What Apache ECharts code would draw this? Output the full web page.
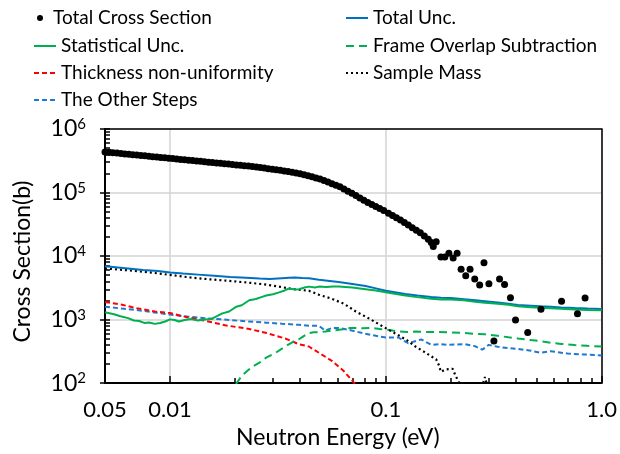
<!DOCTYPE html>
<html><head><meta charset="utf-8">
<script src="https://cdn.jsdelivr.net/npm/echarts@6/dist/echarts.min.js"></script>
<style>html,body{margin:0;padding:0;background:#fff}#c{width:620px;height:454px}</style>
</head><body><div id="c"></div>
<script>
// ---- axis ticks / labels ----
const xTickValues = [0.005, 0.01, 0.1, 1];
const xTickLabels = ['0.05', '0.01', '0.1', '1.0'];
const xMinorTicks = [0.02,0.03,0.04,0.05,0.06,0.07,0.08,0.09,0.2,0.3,0.4,0.5,0.6,0.7,0.8,0.9];
const yTickValues = [100, 1000, 10000, 100000, 1000000];
const yTickExponents = ['2', '3', '4', '5', '6'];
const yMinorTicks = [200,300,400,500,600,700,800,900,2000,3000,4000,5000,6000,7000,8000,9000,
  20000,30000,40000,50000,60000,70000,80000,90000,200000,300000,400000,500000,600000,700000,800000,900000];

// ---- Total Cross Section (points) ----
const tcsE = [0.005,0.00522,0.00544,0.00568,0.00593,0.00618,0.00645,0.00673,0.00702,0.00733,0.00765,0.00798,0.00832,0.00869,0.00906,0.00946,0.00987,0.01029,0.01074,0.01121,0.01169,0.0122,0.01273,0.01328,0.01386,0.01446,0.01509,0.01574,0.01643,0.01714,0.01788,0.01866,0.01947,0.02031,0.0212,0.02212,0.02308,0.02408,0.02512,0.02621,0.02735,0.02854,0.02978,0.03107,0.03242,0.03382,0.03529,0.03682,0.03842,0.04009,0.04183,0.04364,0.04554,0.04751,0.04958,0.05173,0.05397,0.05631,0.05876,0.06131,0.06397,0.06675,0.06964,0.07267,0.07582,0.07911,0.08254,0.08613,0.08986,0.09376,0.09783,
  0.1029,0.1074,0.112,0.1169,0.1219,0.1272,0.1327,0.1385,0.1445,0.1508,0.1573,
  0.1624,0.1659,0.1712,0.180,0.1877,0.196,0.2051,0.214,0.2233,0.2346,0.2456,0.2582,0.2722,0.285,0.3004,0.3169,0.3365,0.355,0.378,0.399,0.4544,0.5234,0.652,0.7727,0.838];
const tcsV = [435500,429300,423300,417300,411400,405600,399800,394200,388600,383100,377700,372300,367100,361900,356800,351700,346700,341800,337000,332200,327500,322900,318300,313800,309400,305000,300700,296400,292200,288100,284000,280000,276000,272100,268300,264500,260700,255900,251300,246700,242200,237800,233400,229200,224300,218900,213700,208600,203600,198000,190600,183500,176600,170000,162900,154100,145800,137900,130500,122800,113500,104900,97020,89490,82350,75780,69740,64680,60110,55860,51910,
  47180,43560,40150,36880,33710,30820,27970,25390,23200,20770,18340,
  16300,14100,16800,9660,9700,11090,9330,11090,6225,4885,6225,4355,3501,7850,3664,459,4355,3575,2203,983,627,1454,1945,1240,2180];

// ---- Total Unc. ----
const totE = [0.005,0.0059,0.0075,0.0088,0.01,0.0115,0.0135,0.016,0.019,0.0225,0.026,0.029,0.033,0.0356,0.038,0.041,0.044,0.049,0.055,0.0605,0.07,0.0806,0.09,0.1,0.11,0.1232,0.14,0.1624,0.18,0.2,0.23,0.26,0.288,0.33,0.37,0.409,0.47,0.52,0.58,0.65,0.75,0.86,1.0];
const totV = [6900,6550,6050,5800,5500,5300,5100,4900,4700,4550,4420,4350,4480,4560,4600,4500,4460,4250,4060,3890,3630,3380,3100,2850,2700,2530,2390,2260,2200,2180,2090,2010,1945,1850,1770,1690,1650,1620,1595,1550,1515,1490,1470];

// ---- Statistical Unc. ----
const statE = [0.005,0.0055,0.0059,0.0064,0.0068,0.0072,0.0076,0.008,0.0085,0.009,0.0095,0.01,0.0105,0.011,0.0117,0.0125,0.0135,0.0145,0.0155,0.0165,0.0175,0.0188,0.0203,0.0215,0.0233,0.025,0.0265,0.0279,0.03,0.032,0.034,0.0356,0.038,0.0396,0.042,0.044,0.047,0.049,0.053,0.057,0.0605,0.065,0.07,0.0806,0.09,0.1,0.11,0.1232,0.14,0.1624,0.18,0.2,0.23,0.26,0.288,0.33,0.37,0.409,0.47,0.52,0.58,0.65,0.75,0.86,1.0];
const statV = [1300,1210,1130,1053,966,949,886,901,856,886,933,1007,983,933,983,1017,966,1000,1017,1129,1253,1342,1596,1681,2013,2105,2256,2393,2502,2683,2875,3082,2976,3007,3190,3302,3190,3302,3245,3325,3302,3245,3190,3007,2875,2683,2547,2393,2256,2127,2070,2070,2013,1911,1846,1771,1710,1623,1568,1541,1514,1479,1438,1414,1403];

// ---- Frame Overlap Subtraction ----
const frameE = [0.0202,0.0216,0.0239,0.0262,0.0279,0.0309,0.0342,0.037,0.0396,0.0415,0.044,0.0463,0.049,0.0525,0.0562,0.062,0.0686,0.078,0.0865,0.0955,0.1037,0.1144,0.125,0.137,0.16,0.1945,0.23,0.26,0.288,0.33,0.37,0.409,0.47,0.52,0.58,0.65,0.75,0.86,1.0];
const frameV = [96,133,178,214,252,300,377,443,490,545,611,633,633,649,671,695,738,732,738,707,688,649,637,649,637,633,615,595,585,555,527,504,475,459,433,414,397,386,377];

// ---- Thickness non-uniformity ----
const thickE = [0.005,0.006,0.007,0.0085,0.01,0.012,0.0147,0.018,0.0233,0.028,0.0342,0.0396,0.044,0.049,0.0562,0.0635,0.0715,0.073];
const thickV = [1897,1710,1515,1342,1265,1090,949,813,712,615,504,409,377,300,224,158,100,95];

// ---- Sample Mass ----
const massE = [0.005,0.0065,0.008,0.01,0.0125,0.0155,0.0195,0.0235,0.0275,0.032,0.0372,0.044,0.049,0.0562,0.064,0.0726,0.083,0.0956,0.1144,0.125,0.137,0.15,0.165,0.171,0.176,0.18,0.189,0.204,0.21,0.217,0.222,0.25,0.28,0.288,0.295,0.31];
const massV = [6375,5945,5548,5055,4590,4283,4023,3790,3576,3302,3007,2846,2460,2127,1771,1342,1053,799,565,475,377,313,255,238,193,151,164,168,133,106,90,85,90,125,90,80];

// ---- The Other Steps ----
const otherE = [0.005,0.006,0.007,0.0085,0.01,0.012,0.0145,0.0175,0.021,0.0279,0.033,0.0396,0.044,0.049,0.0523,0.0563,0.0605,0.068,0.0806,0.09,0.1,0.1144,0.127,0.146,0.1624,0.18,0.1945,0.2329,0.26,0.28,0.30,0.33,0.3676,0.409,0.47,0.522,0.58,0.695,0.82,1.0];
const otherV = [1596,1489,1414,1296,1197,1117,1053,1007,956,895,861,827,799,799,671,738,738,683,599,555,522,522,424,487,400,410,400,410,379,336,400,373,356,344,324,300,317,292,283,273];

const FONT = 'Lato, "Liberation Sans", sans-serif';
const pair = (E, V) => E.map((e, i) => [e, V[i]]);
const near = (a, b) => Math.abs(Math.log10(a) - Math.log10(b)) < 1e-6;

const chart = echarts.init(document.getElementById('c'), null, {renderer: 'canvas'});

function leg(name, left, top, w, h, icon) {
  const d = {name: name};
  if (icon) d.icon = icon;
  const o = {
    data: [d], left: left, top: top, padding: 0, itemWidth: w, itemHeight: h,
    selectedMode: false,
    textStyle: {fontFamily: FONT, fontSize: 19, color: '#000', lineHeight: 20, padding: 0}
  };
  if (!icon) o.itemStyle = {opacity: 0};
  return o;
}

const lineSeries = (name, E, V, color, type, width) => ({
  name: name, type: 'line', data: pair(E, V), symbol: 'none', showSymbol: false,
  lineStyle: {color: color, width: width, type: type}, itemStyle: {color: color},
  animation: false, z: 3
});

chart.setOption({
  animation: false,
  grid: {left: 105, right: 16, top: 129, bottom: 59, containLabel: false},
  legend: [
    leg('Total Cross Section', 37, 8, 16, 6, 'circle'),
    leg('Statistical Unc.', 33, 36, 22, 14),
    leg('Thickness non-uniformity', 33, 63, 22, 14),
    leg('The Other Steps', 33, 90, 22, 14),
    leg('Total Unc.', 345, 8, 22, 14),
    leg('Frame Overlap Subtraction', 345, 36, 22, 14),
    leg('Sample Mass', 345, 63, 22, 14)
  ],
  xAxis: [
    {
      type: 'log', logBase: 10, min: 0.005, max: 1, position: 'bottom',
      axisLine: {show: true, lineStyle: {color: '#000', width: 2}},
      axisTick: {show: true, inside: true, length: 7, customValues: xTickValues, lineStyle: {color: '#000', width: 1.5}},
      axisLabel: {
        show: true, customValues: xTickValues, margin: 16,
        fontFamily: FONT, fontSize: 22, color: '#000',
        formatter: v => { for (let i = 0; i < xTickValues.length; i++) if (near(v, xTickValues[i])) return xTickLabels[i]; return ''; }
      },
      splitLine: {show: true, lineStyle: {color: '#d3d3d3', width: 1.5}},
      name: 'Neutron Energy (eV)', nameLocation: 'middle', nameGap: 36,
      nameTextStyle: {fontFamily: FONT, fontSize: 23, color: '#000', padding: [0, 31, 0, 0]}
    },
    {
      type: 'log', logBase: 10, min: 0.005, max: 1, position: 'top',
      axisLine: {show: true, onZero: false, lineStyle: {color: '#000', width: 1.5}},
      axisTick: {show: false}, axisLabel: {show: false}, splitLine: {show: false}
    },
    {
      type: 'log', logBase: 10, min: 0.005, max: 1, position: 'bottom',
      axisLine: {show: false},
      axisTick: {show: true, inside: true, length: 5, customValues: xMinorTicks, lineStyle: {color: '#000', width: 1.5}},
      axisLabel: {show: false}, splitLine: {show: false}
    }
  ],
  yAxis: [
    {
      type: 'log', logBase: 10, min: 100, max: 1000000, position: 'left',
      axisLine: {show: true, lineStyle: {color: '#000', width: 2}},
      axisTick: {show: true, inside: false, length: 5, customValues: yTickValues, lineStyle: {color: '#000', width: 1.5}},
      axisLabel: {
        show: true, customValues: yTickValues, margin: 19,
        formatter: v => { for (let i = 0; i < yTickValues.length; i++) if (near(v, yTickValues[i])) return '{b|10}{s|' + yTickExponents[i] + '}'; return ''; },
        rich: {
          b: {fontFamily: FONT, fontSize: 23, color: '#000', lineHeight: 24},
          s: {fontFamily: FONT, fontSize: 15, color: '#000', lineHeight: 15, verticalAlign: 'top'}
        }
      },
      splitLine: {show: true, lineStyle: {color: '#d3d3d3', width: 1.5}},
      name: 'Cross Section(b)', nameLocation: 'middle', nameGap: 71,
      nameTextStyle: {fontFamily: FONT, fontSize: 23, color: '#000', padding: [0, 11, 0, 0]}
    },
    {
      type: 'log', logBase: 10, min: 100, max: 1000000, position: 'right',
      axisLine: {show: true, onZero: false, lineStyle: {color: '#000', width: 1.5}},
      axisTick: {show: false}, axisLabel: {show: false}, splitLine: {show: false}
    },
    {
      type: 'log', logBase: 10, min: 100, max: 1000000, position: 'left',
      axisLine: {show: false},
      axisTick: {show: true, inside: true, length: 5, customValues: yMinorTicks.concat(yTickValues), lineStyle: {color: '#000', width: 1.5}},
      axisLabel: {show: false}, splitLine: {show: false}
    }
  ],
  series: [
    lineSeries('The Other Steps', otherE, otherV, '#1F78D1', [5, 3], 2),
    lineSeries('Thickness non-uniformity', thickE, thickV, '#FF0000', [5, 3], 2),
    lineSeries('Frame Overlap Subtraction', frameE, frameV, '#00B050', [8, 5], 2),
    lineSeries('Sample Mass', massE, massV, '#000000', [2, 3], 2.2),
    lineSeries('Total Unc.', totE, totV, '#0070C0', 'solid', 2),
    lineSeries('Statistical Unc.', statE, statV, '#00B050', 'solid', 2),
    {
      name: 'Total Cross Section', type: 'scatter', data: pair(tcsE, tcsV),
      symbol: 'circle', symbolSize: 7, itemStyle: {color: '#000', opacity: 1}, z: 5, animation: false
    }
  ]
});
</script>
</body></html>
